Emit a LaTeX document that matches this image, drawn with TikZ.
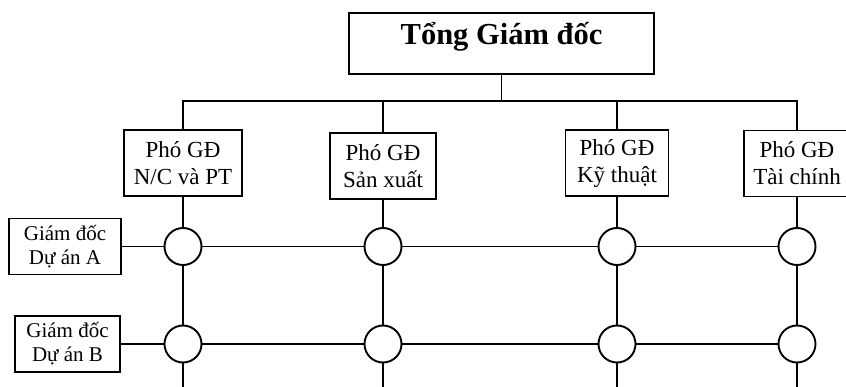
\documentclass[tikz,border=0pt]{standalone}
\usepackage{fontspec}
\setmainfont{Liberation Serif}
\usetikzlibrary{positioning,calc}

\begin{document}
\begin{tikzpicture}[
    x=1pt, y=-1pt,
    chief/.style={rectangle, draw, line width=1.9pt, font=\fontsize{30.5}{34}\selectfont\bfseries, minimum width=305pt, text height=32pt, text depth=29pt, inner sep=0pt},
    deputy/.style={rectangle, draw, line width=1.9pt, align=center, font=\fontsize{23}{27}\selectfont, minimum height=66pt, inner sep=0pt},
    manager/.style={rectangle, draw, line width=1.9pt, align=center, font=\fontsize{21}{24}\selectfont, minimum height=56pt, inner sep=0pt},
    junction/.style={circle, draw, line width=1.9pt, minimum size=37pt, inner sep=0pt},
    link/.style={line width=1.9pt},
    thinlink/.style={line width=1.1pt}
]
\useasboundingbox (0,0) rectangle (846,387);

% Top: general director
\node[chief] (gd) at (501.5,43.5) {Tổng Giám đốc};

% Deputies
\node[deputy, minimum width=118pt] (nc) at (183,163) {Phó GĐ\\N/C và PT};
\node[deputy, minimum width=106pt] (sx) at (383,166) {Phó GĐ\\Sản xuất};
\node[deputy, minimum width=103pt] (kt) at (617,163) {Phó GĐ\\Kỹ thuật};
\node[deputy, minimum width=106pt] (tc) at (797,163.5) {Phó GĐ\\Tài chính};

% Project directors
\node[manager, minimum width=112pt] (da) at (65,246.5) {Giám đốc\\Dự án A};
\node[manager, minimum width=105pt] (db) at (67.5,344) {Giám đốc\\Dự án B};

% Bus from the top box
\coordinate (bus) at ($(gd.south)+(0,26)$);
\draw[link] (gd) -- (bus);
\draw[link] (nc.north) |- (bus) -| (tc.north);
\draw[link] (sx.north) -- (sx.north |- bus);
\draw[link] (kt.north) -- (kt.north |- bus);

% Matrix junctions and columns
\foreach \d in {nc,sx,kt,tc} {
  \node[junction] (\d-a) at (\d |- da) {};
  \node[junction] (\d-b) at (\d |- db) {};
  \coordinate (\d-e) at ($(\d-b)+(0,50)$);
  \draw[link] (\d) -- (\d-a);
  \draw[link] (\d-b) -- (\d-e);
}
\draw[link] (nc-a) -- (nc-b);
\draw[thinlink] (sx-a) -- (sx-b);
\draw[link] (kt-a) -- (kt-b);
\draw[link] (tc-a) -- (tc-b);

% Project rows
\draw[link] (da) -- (nc-a);
\draw[thinlink] (nc-a) -- (sx-a);
\draw[link] (sx-a) -- (kt-a) -- (tc-a);
\draw[link] (db) -- (nc-b) -- (sx-b) -- (kt-b) -- (tc-b);

\end{tikzpicture}
\end{document}
